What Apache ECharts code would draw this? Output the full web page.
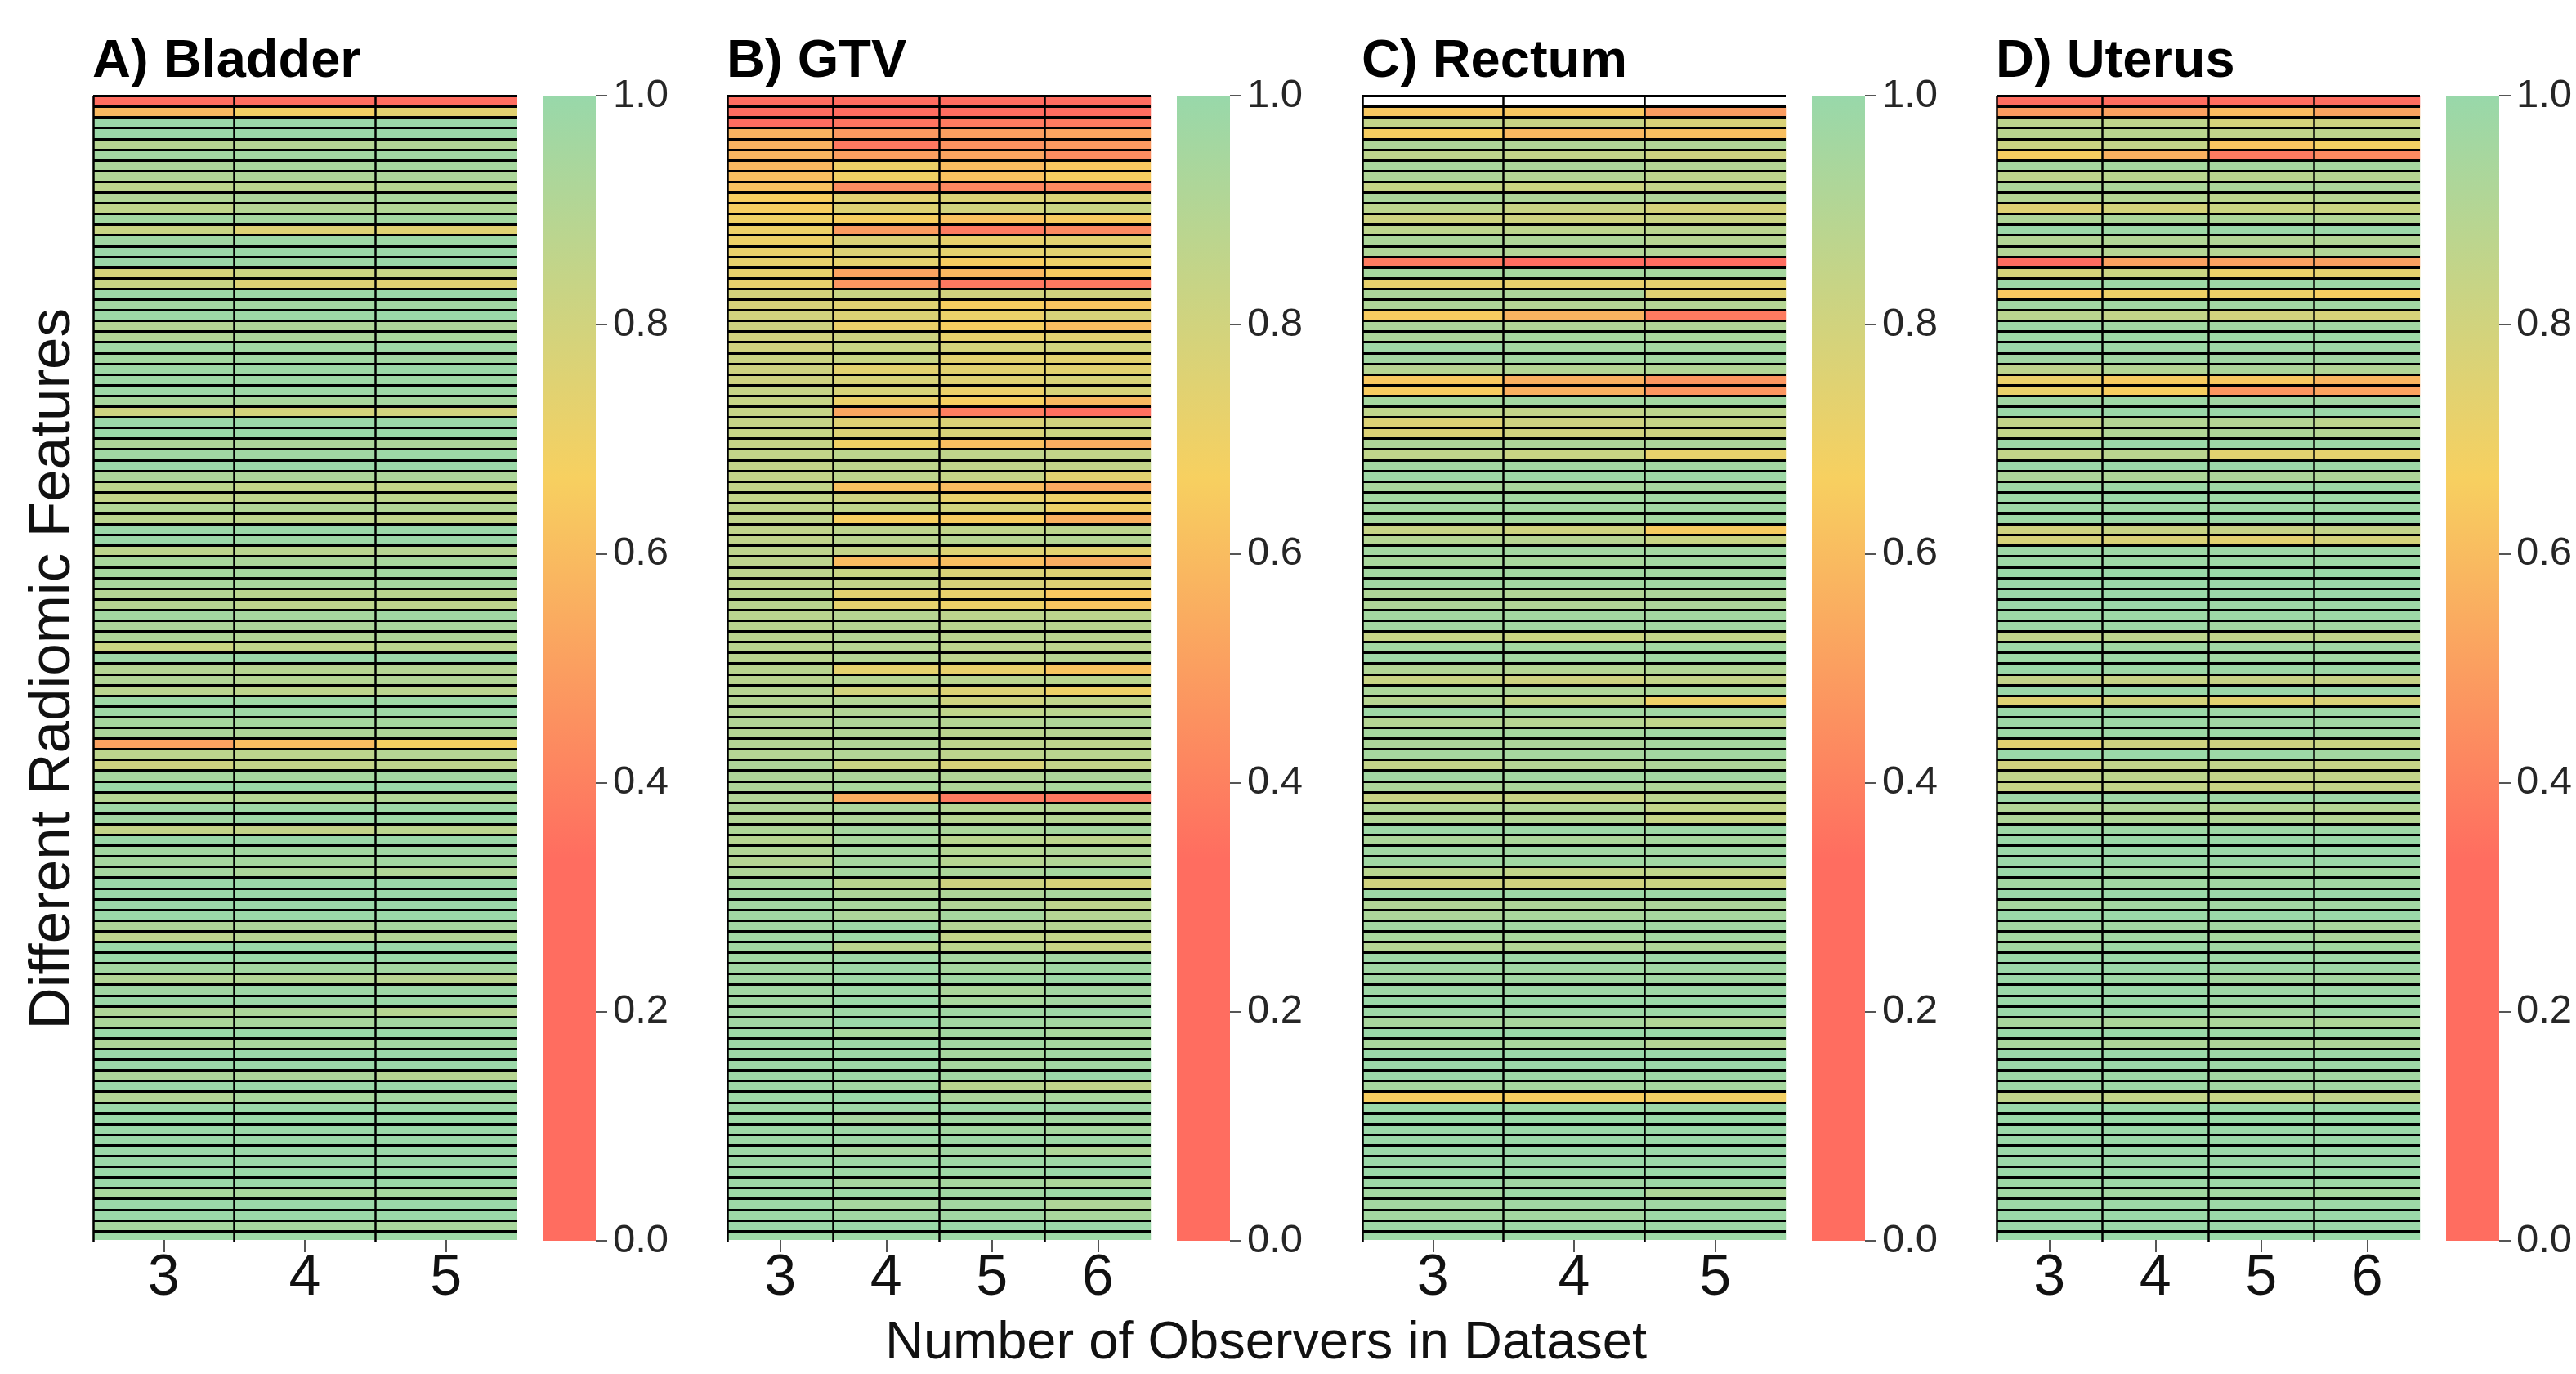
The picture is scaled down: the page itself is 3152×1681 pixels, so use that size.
<!DOCTYPE html>
<html>
<head>
<meta charset="utf-8">
<style>html,body{margin:0;padding:0;background:#fff}#chart{width:3152px;height:1681px}</style>
<script src="https://cdn.jsdelivr.net/npm/echarts@6/dist/echarts.min.js"></script>
</head>
<body>
<div id="chart"></div>
<script>
const panelTitles = ['A) Bladder', 'B) GTV', 'C) Rectum', 'D) Uterus'];
const observersThree = ['3', '4', '5'];
const observersFour = ['3', '4', '5', '6'];
const colorbarTicks = [0, 0.2, 0.4, 0.6, 0.8, 1.0];
const xName = 'Number of Observers in Dataset';
const yName = 'Different Radiomic Features';

// one row per radiomic feature, top to bottom; one value per observer count
const bladder = [
[.31,.31,.31],[.59,.68,.74],[.99,.99,.99],[.99,.99,.99],[.89,.90,.91],[.96,.96,.97],[.93,.94,.95],[.91,.92,.93],[.87,.88,.89],[.91,.93,.94],
[.86,.90,.91],[.96,.95,.96],[.83,.76,.75],[.97,.98,.98],[.99,.99,.99],[.99,.98,.99],[.79,.82,.84],[.83,.76,.75],[.98,.98,.99],[.96,.96,.97],
[.98,.98,.99],[.90,.92,.93],[.91,.93,.94],[.97,.97,.98],[.96,.97,.97],[.98,.98,.99],[.98,.98,.98],[.98,.98,.98],[.94,.94,.95],[.81,.79,.80],
[.99,.99,.99],[.99,.99,.99],[.92,.93,.93],[.97,.97,.98],[.99,.99,.99],[.93,.93,.93],[.87,.85,.85],[.85,.86,.87],[.91,.91,.91],[.88,.87,.86],
[.99,.99,.99],[.99,.98,.99],[.87,.88,.89],[.94,.93,.94],[.95,.95,.96],[.94,.94,.95],[.90,.88,.88],[.89,.87,.87],[.96,.95,.97],[.93,.93,.94],
[.92,.91,.92],[.82,.86,.88],[.98,.99,.99],[.90,.89,.90],[.91,.90,.91],[.88,.87,.88],[.98,.98,.98],[.98,.98,.98],[.95,.95,.95],[.93,.92,.92],
[.51,.60,.67],[.87,.87,.90],[.81,.85,.87],[.95,.95,.96],[.99,.99,.99],[.90,.90,.91],[.98,.98,.98],[.97,.98,.98],[.85,.85,.88],[.99,.99,.99],
[.96,.96,.97],[.95,.95,.96],[.95,.93,.91],[.99,.99,.99],[.99,.99,.99],[.99,.99,.99],[.99,.99,.99],[.92,.93,.95],[.87,.89,.91],[.99,.99,.99],
[.99,.99,.99],[.96,.96,.96],[.91,.91,.89],[.97,.98,.98],[.99,.99,.99],[.92,.93,.89],[.93,.94,.96],[.99,.99,.99],[.92,.94,.96],[.99,.99,.99],
[.99,.99,.99],[.93,.93,.89],[.99,.99,.99],[.91,.94,.96],[.99,.99,.99],[.99,.99,.99],[.99,.99,.99],[.99,.99,.99],[.99,.99,.99],[.99,.99,.99],
[.99,.99,.99],[.99,.99,.99],[.94,.94,.95],[.99,.99,.99],[.99,.99,.99],[.95,.95,.94],[.98,.98,.98]
];
const gtv = [
[.33,.33,.33,.33],[.33,.33,.33,.33],[.33,.36,.38,.38],[.57,.48,.50,.52],[.57,.37,.46,.48],[.58,.50,.52,.44],[.59,.70,.60,.64],[.61,.69,.62,.66],[.62,.44,.42,.43],[.66,.74,.76,.76],
[.66,.75,.80,.82],[.69,.66,.62,.65],[.70,.49,.38,.43],[.70,.77,.72,.74],[.71,.76,.73,.74],[.72,.73,.66,.70],[.72,.52,.59,.65],[.72,.47,.37,.37],[.79,.83,.80,.80],[.78,.75,.66,.63],
[.80,.76,.71,.78],[.81,.71,.66,.60],[.80,.81,.72,.74],[.80,.83,.79,.80],[.82,.83,.74,.74],[.81,.74,.74,.74],[.81,.78,.75,.78],[.84,.78,.71,.78],[.84,.71,.67,.59],[.84,.53,.39,.34],
[.84,.75,.77,.80],[.84,.76,.78,.82],[.84,.69,.61,.55],[.85,.87,.86,.85],[.85,.87,.86,.85],[.85,.87,.84,.74],[.85,.62,.60,.54],[.85,.81,.72,.70],[.86,.86,.80,.70],[.86,.67,.65,.56],
[.86,.87,.86,.87],[.86,.88,.89,.90],[.87,.85,.76,.74],[.87,.60,.61,.55],[.87,.83,.77,.75],[.87,.85,.78,.76],[.88,.74,.72,.64],[.88,.73,.70,.63],[.88,.89,.87,.87],[.88,.89,.88,.88],
[.88,.90,.88,.88],[.88,.89,.87,.87],[.88,.90,.87,.89],[.88,.73,.72,.63],[.88,.89,.88,.88],[.89,.80,.76,.70],[.90,.91,.81,.86],[.90,.91,.86,.88],[.91,.92,.90,.92],[.90,.91,.88,.89],
[.90,.91,.87,.87],[.90,.91,.87,.88],[.92,.83,.78,.85],[.92,.93,.91,.93],[.92,.94,.92,.94],[.91,.55,.38,.37],[.92,.93,.90,.90],[.91,.92,.89,.90],[.92,.95,.93,.95],[.89,.94,.88,.87],
[.91,.95,.90,.92],[.90,.95,.89,.91],[.92,.95,.93,.95],[.95,.88,.81,.78],[.96,.92,.92,.94],[.96,.94,.91,.87],[.97,.93,.95,.90],[.97,.98,.90,.89],[.97,.98,.85,.85],[.96,.88,.87,.83],
[.97,.98,.95,.96],[.97,.98,.95,.97],[.97,.98,.97,.98],[.97,.98,.93,.96],[.97,.99,.94,.96],[.97,.98,.97,.98],[.97,.99,.96,.96],[.98,.94,.96,.94],[.98,.98,.96,.95],[.98,.98,.95,.97],
[.98,.98,.95,.97],[.98,.98,.97,.99],[.98,.97,.88,.86],[.98,.99,.93,.94],[.98,.98,.98,.98],[.98,.95,.97,.96],[.98,.98,.96,.95],[.98,.98,.98,.98],[.98,.95,.97,.92],[.98,.98,.98,.98],
[.98,.98,.98,.99],[.98,.95,.95,.93],[.98,.98,.97,.98],[.98,.95,.96,.92],[.98,.97,.97,.94],[.99,.99,.99,.99],[.98,.98,.98,.98]
];
const rectum = [
[null,null,null],[.64,.64,.49],[.85,.83,.77],[.66,.59,.61],[.92,.91,.91],[.87,.85,.81],[.94,.93,.90],[.92,.90,.87],[.84,.82,.85],[.93,.92,.92],
[.87,.83,.79],[.81,.81,.83],[.87,.87,.88],[.93,.92,.89],[.92,.91,.91],[.38,.33,.33],[.95,.95,.95],[.72,.72,.73],[.93,.93,.75],[.92,.90,.90],
[.65,.57,.38],[.93,.91,.91],[.93,.95,.94],[.98,.96,.96],[.96,.96,.96],[.89,.90,.91],[.64,.56,.47],[.65,.56,.47],[.95,.96,.96],[.86,.85,.87],
[.76,.81,.84],[.76,.80,.81],[.92,.92,.93],[.86,.83,.72],[.96,.96,.96],[.98,.98,.98],[.94,.94,.95],[.96,.96,.97],[.96,.96,.97],[.95,.95,.96],
[.84,.81,.65],[.90,.89,.83],[.96,.96,.96],[.94,.94,.96],[.96,.96,.96],[.97,.96,.97],[.92,.91,.93],[.92,.91,.93],[.96,.96,.96],[.96,.96,.96],
[.84,.82,.85],[.96,.96,.96],[.98,.96,.97],[.91,.90,.91],[.83,.81,.85],[.93,.92,.93],[.89,.84,.70],[.98,.96,.97],[.90,.89,.86],[.95,.95,.97],
[.93,.93,.95],[.95,.95,.96],[.85,.90,.92],[.97,.96,.96],[.93,.93,.92],[.83,.83,.88],[.91,.91,.85],[.91,.91,.84],[.98,.98,.98],[.93,.93,.95],
[.97,.97,.97],[.97,.97,.97],[.88,.85,.86],[.80,.80,.82],[.98,.98,.98],[.91,.92,.93],[.93,.94,.95],[.96,.96,.97],[.94,.94,.96],[.90,.91,.92],
[.98,.98,.98],[.97,.97,.97],[.97,.97,.97],[.98,.98,.98],[.99,.99,.99],[.98,.98,.98],[.94,.94,.91],[.99,.99,.99],[.94,.94,.90],[.99,.99,.99],
[.99,.99,.99],[.99,.98,.98],[.95,.95,.95],[.66,.66,.68],[.99,.98,.98],[.99,.99,.99],[.99,.99,.99],[.99,.99,.99],[.99,.99,.99],[.99,.99,.99],
[.99,.99,.99],[.98,.97,.98],[.96,.98,.92],[.96,.97,.97],[.96,.96,.98],[.98,.98,.98],[.98,.98,.98]
];
const uterus = [
[.33,.33,.33,.33],[.49,.51,.60,.52],[.87,.86,.79,.81],[.88,.88,.86,.87],[.82,.85,.63,.68],[.66,.56,.38,.43],[.95,.95,.95,.95],[.87,.88,.88,.89],[.93,.93,.93,.93],[.90,.90,.87,.89],
[.75,.79,.82,.82],[.92,.93,.93,.91],[.99,.98,.99,.99],[.91,.91,.91,.91],[.91,.90,.90,.91],[.33,.51,.51,.51],[.79,.82,.71,.73],[.98,.98,.98,.98],[.64,.70,.70,.66],[.97,.97,.97,.97],
[.88,.85,.80,.78],[.98,.97,.97,.97],[.98,.98,.98,.98],[.99,.98,.98,.98],[.97,.97,.97,.97],[.87,.90,.93,.91],[.71,.65,.64,.58],[.71,.66,.47,.52],[.97,.98,.97,.97],[.99,.99,.99,.99],
[.85,.90,.90,.87],[.85,.91,.92,.90],[.98,.99,.98,.98],[.85,.88,.74,.73],[.99,.99,.99,.98],[.93,.92,.93,.92],[.98,.98,.98,.98],[.98,.99,.98,.98],[.98,.98,.98,.98],[.98,.98,.98,.98],
[.81,.83,.84,.85],[.78,.77,.74,.79],[.98,.98,.98,.98],[.98,.98,.98,.98],[.99,.99,.99,.99],[.99,.99,.99,.99],[.99,.99,.99,.99],[.99,.99,.98,.98],[.98,.98,.98,.98],[.98,.98,.96,.96],
[.86,.87,.86,.86],[.98,.97,.97,.97],[.98,.98,.97,.97],[.99,.98,.98,.98],[.85,.84,.84,.84],[.99,.99,.99,.99],[.75,.79,.74,.77],[.99,.99,.98,.98],[.98,.98,.97,.97],[.98,.98,.98,.97],
[.74,.81,.81,.82],[.99,.99,.98,.96],[.80,.86,.86,.84],[.86,.87,.85,.85],[.84,.85,.83,.85],[.98,.98,.98,.98],[.91,.92,.90,.90],[.92,.92,.91,.90],[.98,.98,.98,.98],[.99,.99,.99,.99],
[.99,.99,.99,.99],[.99,.99,.99,.99],[.99,.97,.96,.96],[.96,.97,.97,.97],[.99,.99,.99,.99],[.95,.96,.97,.97],[.99,.99,.99,.99],[.96,.97,.96,.94],[.96,.97,.95,.93],[.97,.98,.97,.96],
[.99,.99,.98,.98],[.99,.99,.98,.98],[.99,.98,.96,.96],[.99,.99,.98,.98],[.99,.99,.98,.98],[.99,.99,.96,.98],[.94,.93,.93,.92],[.99,.99,.98,.98],[.94,.92,.92,.92],[.99,.99,.98,.98],
[.99,.99,.98,.98],[.98,.98,.96,.96],[.98,.98,.97,.97],[.86,.85,.84,.86],[.99,.99,.99,.99],[.99,.99,.99,.99],[.99,.99,.99,.99],[.99,.99,.99,.99],[.99,.99,.99,.99],[.99,.99,.99,.99],
[.99,.99,.99,.99],[.98,.98,.98,.98],[.97,.96,.96,.95],[.98,.98,.98,.98],[.99,.99,.99,.99],[.99,.99,.99,.99],[.99,.99,.99,.99]
];

const RED = '#FF6D60', YELLOW = '#F7D060', GREEN = '#98D8AA';
const panelData = [bladder, gtv, rectum, uterus];
const panelObservers = [observersThree, observersFour, observersThree, observersFour];
const heatLefts = [114, 890, 1667, 2443];
const barLefts = [664, 1440, 2217, 2993];
const HEAT_W = 518, TOP = 117.4, HEAT_H = 1401.7, BAR_W = 65;
const FONT = '"Liberation Sans",Arial,sans-serif';

const grid = [], xAxis = [], yAxis = [], series = [], title = [], graphics = [];
panelData.forEach((rows, p) => {
  const g = grid.length;
  grid.push({ left: heatLefts[p], top: TOP, width: HEAT_W, height: HEAT_H });
  xAxis.push({
    type: 'category', gridIndex: g, data: panelObservers[p], z: 10, offset: -2,
    axisLine: { show: false },
    axisTick: { show: true, alignWithLabel: true, length: 15, lineStyle: { color: '#555', width: 2 } },
    axisLabel: { fontFamily: FONT, fontSize: 70, color: '#111', margin: 13, interval: 0 },
    splitLine: { show: true, showMinLine: true, showMaxLine: false, interval: 0, lineStyle: { color: '#000', width: 2.5 } }
  });
  yAxis.push({
    type: 'category', gridIndex: g, inverse: true, z: 10,
    data: rows.map((_, i) => i + 1),
    axisLine: { show: false }, axisTick: { show: false }, axisLabel: { show: false },
    splitLine: { show: true, showMinLine: true, showMaxLine: false, interval: 0, lineStyle: { color: '#000', width: 3 } },
    ...(p === 0 ? {
      name: yName, nameLocation: 'middle', nameRotate: 90, nameGap: 13,
      nameTextStyle: { fontFamily: FONT, fontSize: 71, color: '#111' }
    } : {})
  });
  const cells = [];
  rows.forEach((row, r) => row.forEach((v, c) => cells.push([c, r, v === null ? '-' : v])));
  series.push({
    type: 'heatmap', xAxisIndex: g, yAxisIndex: g, data: cells, progressive: 0,
    itemStyle: { borderWidth: 0 }, silent: true, z: 2
  });
  title.push({
    text: panelTitles[p], left: heatLefts[p] - 1, top: 44, padding: 0,
    textStyle: { fontFamily: FONT, fontWeight: 'bold', fontSize: 65, color: '#000' }
  });
  // cut the last row where the panel ends
  graphics.push({ type: 'rect', z: 5, shape: { x: heatLefts[p] - 2, y: 1517, width: HEAT_W + 4, height: 3 }, style: { fill: '#fff' } });

  const b = grid.length;
  grid.push({ left: barLefts[p], top: 117, width: BAR_W, height: 1401 });
  xAxis.push({ type: 'category', gridIndex: b, data: [''], axisLine: { show: false }, axisTick: { show: false }, axisLabel: { show: false }, splitLine: { show: false } });
  yAxis.push({
    type: 'value', gridIndex: b, position: 'right', min: colorbarTicks[0], max: colorbarTicks[colorbarTicks.length - 1], interval: 0.2,
    axisLine: { show: false }, splitLine: { show: false },
    axisTick: { show: true, length: 14, lineStyle: { color: '#555', width: 2 } },
    axisLabel: { fontFamily: FONT, fontSize: 49, color: '#262626', margin: 21, formatter: v => v.toFixed(1) }
  });
  series.push({
    type: 'bar', xAxisIndex: b, yAxisIndex: b, data: [colorbarTicks[colorbarTicks.length - 1]], barWidth: '100%', silent: true,
    itemStyle: { color: new echarts.graphic.LinearGradient(0, 0, 0, 1, [
      { offset: 0, color: GREEN }, { offset: 0.3333, color: YELLOW }, { offset: 0.6667, color: RED }, { offset: 1, color: RED }
    ]) }
  });
});
title.push({
  text: xName, left: 1549, top: 1612, textAlign: 'center', padding: 0,
  textStyle: { fontFamily: FONT, fontWeight: 'normal', fontSize: 65, color: '#111' }
});

const chart = echarts.init(document.getElementById('chart'), null, { renderer: 'canvas' });
chart.setOption({
  animation: false, backgroundColor: '#fff',
  title, grid, xAxis, yAxis, series,
  visualMap: {
    show: false, type: 'continuous', min: 0, max: 1, seriesIndex: [0, 2, 4, 6],
    inRange: { color: [RED, RED, YELLOW, GREEN] }
  },
  graphic: graphics
});
</script>
</body>
</html>
